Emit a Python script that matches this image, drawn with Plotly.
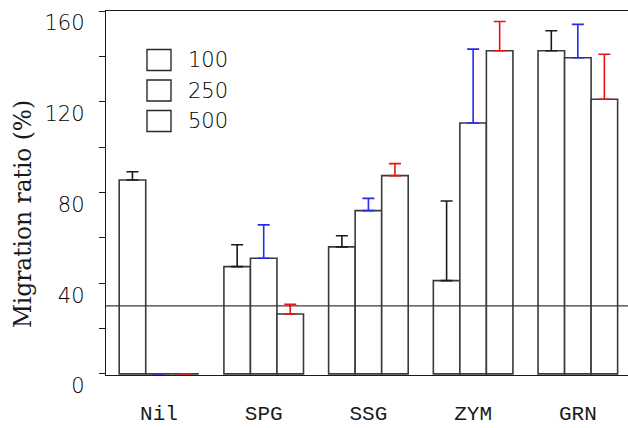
import plotly.graph_objects as go

categories = ["Nil", "SPG", "SSG", "ZYM", "GRN"]
series_names = ["100", "250", "500"]
values_100 = [85.5, 47.3, 56.0, 41.1, 142.5]
values_250 = [0.0, 51.0, 72.0, 110.6, 139.4]
values_500 = [0.0, 26.4, 87.4, 142.5, 121.1]
err_100 = [3.6, 9.6, 4.9, 35.1, 8.8]
err_250 = [0.0, 14.7, 5.4, 32.6, 14.7]
err_500 = [0.0, 4.3, 5.3, 12.9, 19.8]
reference_level = 30
y_tick_vals = [0, 20, 40, 60, 80, 100, 120, 140, 160]
y_tick_text = ["0", "", "40", "", "80", "", "120", "", "160"]
y_title = "Migration ratio (%)"

err_colors = ["#1a1a1a", "#2a2aee", "#ee1111"]
outline = "#3a3a3a"
num_font = dict(family="DejaVu Sans, sans-serif", size=21, color="#000000", weight=300)

fig = go.Figure()
for name, vals, errs, ec in zip(series_names, [values_100, values_250, values_500],
                                 [err_100, err_250, err_500], err_colors):
    fig.add_trace(go.Bar(
        x=categories, y=vals, name=name,
        marker=dict(color="white", line=dict(color=outline, width=1.6)),
        error_y=dict(type="data", array=errs, symmetric=False, arrayminus=[0] * len(errs),
                     color=ec, thickness=1.6, width=6),
        showlegend=False, cliponaxis=False,
    ))

fig.add_shape(type="line", xref="paper", yref="y", x0=0, x1=1,
              y0=reference_level, y1=reference_level,
              line=dict(color="#3a3a3a", width=1.4))

# legend drawn as boxes + text
W, H = 628, 428
L, T, R, B = 106, 11, 0, 53
pw, ph = W - L - R, H - T - B
row_step = 30.5
first_center = 60
for i, name in enumerate(series_names):
    cy = first_center + i * row_step
    y0 = (H - B - (cy + 10.5)) / ph
    y1 = (H - B - (cy - 10.5)) / ph
    fig.add_shape(type="rect", xref="paper", yref="paper",
                  x0=(147 - L) / pw, x1=(171 - L) / pw, y0=y0, y1=y1,
                  line=dict(color="#2a2a2a", width=1.4), fillcolor="white")
    fig.add_annotation(xref="paper", yref="paper", x=(186 - L) / pw,
                       y=(H - B - cy) / ph, text=name, showarrow=False,
                       xanchor="left", yanchor="middle", font=num_font)

# y-axis title as rotated annotation
fig.add_annotation(xref="paper", yref="paper", x=(22 - L) / pw, y=(H - B - 214) / ph,
                   text=y_title, textangle=-90, showarrow=False,
                   xanchor="center", yanchor="middle",
                   font=dict(family="DejaVu Serif, serif", size=23.3, color="#1a1a1a"))

fig.update_layout(
    width=W, height=H,
    margin=dict(l=L, r=R, t=T, b=B, pad=0),
    plot_bgcolor="white", paper_bgcolor="white",
    barmode="group", bargap=0.24, bargroupgap=0,
    showlegend=False,
)
fig.update_xaxes(
    range=[-0.506, 4.479], showline=True, linecolor="#1a1a1a", linewidth=1.4,
    mirror=True, ticks="", showgrid=False, zeroline=False, automargin=False,
    layer="below traces",
    tickfont=dict(family="Liberation Mono, Courier New, monospace", size=21, color="#1a1a1a"),
    ticklabelstandoff=19,
)
fig.update_yaxes(
    range=[-0.5, 160], showline=True, linecolor="#1a1a1a", linewidth=1.4,
    ticks="outside", ticklen=6, tickcolor="#1a1a1a", tickwidth=1.2,
    tickvals=y_tick_vals, ticktext=y_tick_text,
    showgrid=False, zeroline=False, automargin=False,
    tickfont=num_font,
    ticklabelshift=12, ticklabelstandoff=10,
)

fig.write_html("out.html")
